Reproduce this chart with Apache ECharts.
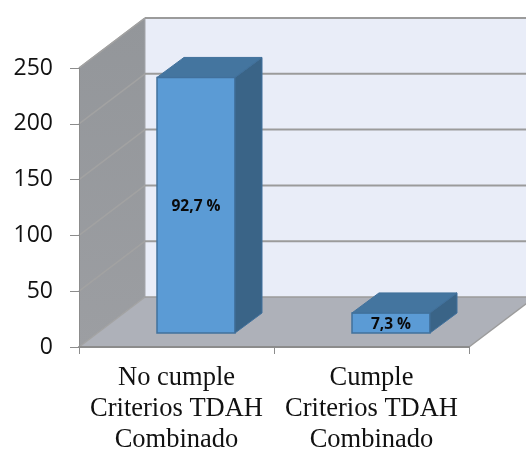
<!DOCTYPE html>
<html>
<head>
<meta charset="utf-8">
<style>
  html, body { margin: 0; padding: 0; background: #fff; }
  #chart { width: 526px; height: 449px; }
</style>
<script src="https://cdn.jsdelivr.net/npm/echarts@6/dist/echarts.min.js"></script>
</head>
<body>
<div id="chart"></div>
<script>
const categories = ["No cumple\nCriterios TDAH\nCombinado", "Cumple\nCriterios TDAH\nCombinado"];
const values = [229, 18];
const percentLabels = ["92,7 %", "7,3 %"];
const yTicks = [0, 50, 100, 150, 200, 250];

// fake 3D: offsets in px applied to what the axes give back
const wallDepth = [66, -50];
const barShift = [19.5, -14];
const barDepth = [27, -20];
const gridColor = "#9b9b9b";
const wallLineColor = "#a2a2a2";

function move(p, d) {
  return [p[0] + d[0], p[1] + d[1]];
}

function poly(points, fill, stroke, lineWidth) {
  return {
    type: "polygon",
    shape: { points: points },
    style: { fill: fill, stroke: stroke || null, lineWidth: lineWidth || 0 },
  };
}

function renderWalls(params, api) {
  const bl = api.coord([0, 0]);
  const size = api.size([1, 0]);
  const tl = api.coord([0, 250]);
  tl[0] = bl[0] = bl[0] - size[0] / 2;
  const br = [bl[0] + size[0] * 2, bl[1]];
  const backBl = move(bl, wallDepth);
  const backTl = move(tl, wallDepth);
  const backBr = move(br, wallDepth);
  const backTr = [backBr[0], backTl[1]];
  return {
    type: "group",
    children: [
      poly([backTl, backTr, backBr, backBl], "#e9edf8"),
      poly([tl, backTl, backBl, bl], {
        type: "linear", x: 0, y: 0, x2: 0, y2: 1,
        colorStops: [{ offset: 0, color: "#93969a" }, { offset: 1, color: "#9c9ea2" }],
      }),
      poly([bl, br, backBr, backBl], "#aeb1b9"),
      { type: "line", shape: { x1: tl[0], y1: tl[1], x2: backTl[0], y2: backTl[1] }, style: { stroke: gridColor, lineWidth: 1.5 } },
      { type: "line", shape: { x1: backTl[0], y1: backTl[1], x2: backTr[0], y2: backTr[1] }, style: { stroke: gridColor, lineWidth: 2 } },
      { type: "line", shape: { x1: backTl[0], y1: backTl[1], x2: backBl[0], y2: backBl[1] }, style: { stroke: "#a4a6aa", lineWidth: 1 } },
      { type: "line", shape: { x1: bl[0], y1: bl[1], x2: backBl[0], y2: backBl[1] }, style: { stroke: wallLineColor, lineWidth: 1.5 } },
      { type: "line", shape: { x1: br[0], y1: br[1], x2: backBr[0], y2: backBr[1] }, style: { stroke: gridColor, lineWidth: 1.5 } },
      { type: "line", shape: { x1: backBl[0], y1: backBl[1], x2: backBr[0], y2: backBr[1] }, style: { stroke: gridColor, lineWidth: 1.5 } },
    ],
  };
}

function renderGrid(params, api) {
  const tick = api.value(1);
  const p = api.coord([0, tick]);
  const size = api.size([1, 0]);
  const left = [p[0] - size[0] / 2, p[1]];
  const back = move(left, wallDepth);
  return {
    type: "group",
    children: [
      { type: "line", shape: { x1: left[0], y1: left[1], x2: back[0], y2: back[1] }, style: { stroke: wallLineColor, lineWidth: 1.5 } },
      { type: "line", shape: { x1: back[0], y1: back[1], x2: back[0] + size[0] * 2, y2: back[1] }, style: { stroke: gridColor, lineWidth: 2 } },
    ],
  };
}

function renderBar(params, api) {
  const idx = api.value(0);
  const val = api.value(1);
  const base = api.coord([idx, 0]);
  const top = api.coord([idx, val]);
  const w = api.size([1, 0])[0] * 0.4;
  const x0 = base[0] - w / 2 + barShift[0];
  const x1 = x0 + w;
  const yBase = base[1] + barShift[1];
  const yTop = top[1] + barShift[1];
  const a = [x0, yTop], b = [x1, yTop], c = [x1, yBase], d = [x0, yBase];
  const edge = "#41719c";
  return {
    type: "group",
    children: [
      poly([a, b, c, d], "#5b9bd5", edge, 1.5),
      poly([a, move(a, barDepth), move(b, barDepth), b], "#44759f", edge, 1),
      poly([b, move(b, barDepth), move(c, barDepth), c], "#3a6487", edge, 1),
      {
        type: "text",
        style: {
          x: (x0 + x1) / 2,
          y: (yTop + yBase) / 2 + 1.5,
          text: percentLabels[idx],
          fill: "#0a0a0a",
          font: "bold 15.5px 'Open Sans'",
          align: "center",
          verticalAlign: "middle",
        },
      },
    ],
  };
}

const chart = echarts.init(document.getElementById("chart"));
chart.setOption({
  animation: false,
  backgroundColor: "#fff",
  grid: { left: 79, top: 68, width: 390, height: 279, outerBoundsMode: "none" },
  xAxis: {
    type: "category",
    data: categories,
    axisTick: { show: true, length: 7, lineStyle: { color: "#8c8c8c", width: 1 } },
    axisLine: { show: true, lineStyle: { color: "#8c8c8c", width: 2 } },
    axisLabel: {
      interval: 0,
      margin: 16,
      color: "#111",
      fontFamily: "Liberation Serif",
      fontSize: 26.5,
      lineHeight: 31,
    },
    z: 5,
  },
  yAxis: {
    type: "value",
    min: 0,
    max: 250,
    interval: 50,
    splitLine: { show: false },
    axisTick: { show: true, length: 9, lineStyle: { color: "#8c8c8c", width: 1 } },
    axisLine: { show: true, lineStyle: { color: "#8c8c8c", width: 1 } },
    axisLabel: {
      margin: 26,
      color: "#111",
      fontFamily: "Open Sans",
      fontSize: 23,
      formatter: (v) => (yTicks.includes(v) ? String(v) : ""),
    },
    z: 5,
  },
  series: [
    { type: "custom", z: 1, silent: true, renderItem: renderWalls, data: [[0, 0]] },
    { type: "custom", z: 2, silent: true, renderItem: renderGrid, data: yTicks.slice(1).map((t) => [0, t]) },
    { type: "custom", z: 3, silent: true, renderItem: renderBar, data: values.map((v, i) => [i, v]) },
  ],
});
</script>
</body>
</html>
